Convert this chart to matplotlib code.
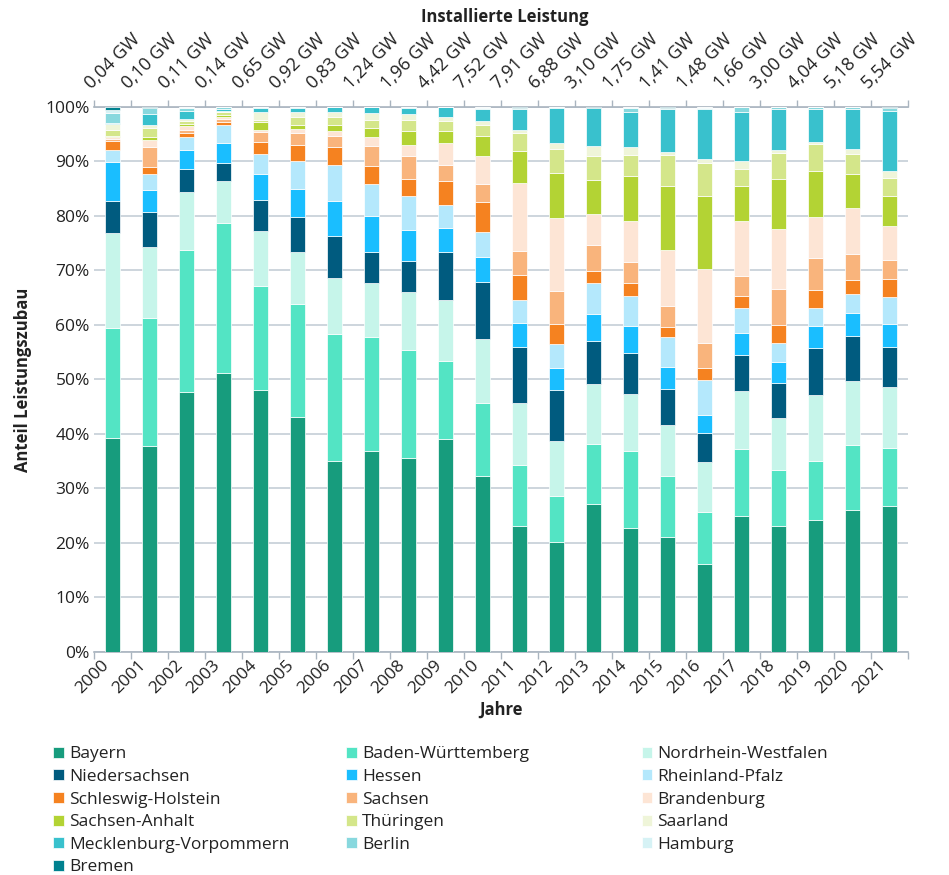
import numpy as np
import matplotlib
matplotlib.use("Agg")
import matplotlib.pyplot as plt
from matplotlib.ticker import FixedLocator, FuncFormatter

# ---------------------------------------------------------------------------
# Data: share of newly installed capacity per federal state (%)
# ---------------------------------------------------------------------------
years = [str(y) for y in range(2000, 2022)]
gw_labels = ["0,04 GW", "0,10 GW", "0,11 GW", "0,14 GW", "0,65 GW", "0,92 GW",
             "0,83 GW", "1,24 GW", "1,96 GW", "4,42 GW", "7,52 GW", "7,91 GW",
             "6,88 GW", "3,10 GW", "1,75 GW", "1,41 GW", "1,48 GW", "1,66 GW",
             "3,00 GW", "4,04 GW", "5,18 GW", "5,54 GW"]

bayern = [39.3, 37.9, 47.7, 51.2, 48.0, 43.0, 35.1, 36.8, 35.5, 39.1, 32.2,
          23.1, 20.2, 27.1, 22.8, 21.0, 16.2, 24.9, 23.1, 24.1, 26.0, 26.7]
baden_wuerttemberg = [20.1, 23.4, 26.0, 27.5, 19.0, 20.8, 23.2, 21.0, 19.9, 14.2, 13.4,
                      11.2, 8.4, 11.0, 14.0, 11.3, 9.5, 12.3, 10.3, 11.0, 11.9, 10.7]
nrw = [17.5, 13.1, 10.7, 7.8, 10.2, 9.6, 10.2, 9.9, 10.6, 11.2, 11.8,
       11.4, 10.1, 11.1, 10.5, 9.4, 9.2, 10.6, 9.5, 12.1, 11.8, 11.1]
niedersachsen = [5.9, 6.5, 4.1, 3.3, 5.6, 6.4, 7.8, 5.6, 5.7, 8.8, 10.5,
                 10.2, 9.3, 7.9, 7.5, 6.6, 5.3, 6.7, 6.5, 8.5, 8.2, 7.5]
hessen = [7.2, 4.0, 3.5, 3.6, 4.8, 5.1, 6.4, 6.6, 5.6, 4.5, 4.5,
          4.4, 4.1, 4.9, 5.0, 4.0, 3.3, 4.0, 3.8, 4.0, 4.3, 4.2]
rheinland_pfalz = [2.2, 2.9, 2.5, 3.3, 3.7, 5.2, 6.7, 5.9, 6.3, 4.2, 4.7,
                   4.3, 4.3, 5.6, 5.5, 5.4, 6.4, 4.5, 3.5, 3.4, 3.4, 4.9]
schleswig_holstein = [1.6, 1.3, 0.7, 0.6, 2.1, 2.9, 3.3, 3.3, 3.1, 4.4, 5.4,
                      4.5, 3.8, 2.2, 2.4, 1.9, 2.1, 2.3, 3.3, 3.2, 2.6, 3.3]
sachsen = [0.4, 3.7, 0.6, 0.5, 1.8, 2.2, 2.0, 3.7, 4.3, 2.9, 3.3,
           4.4, 6.0, 4.9, 3.9, 3.9, 4.7, 3.6, 6.6, 5.9, 4.7, 3.4]
brandenburg = [0.3, 1.3, 0.6, 0.4, 0.4, 0.7, 0.8, 1.6, 1.9, 4.0, 5.2,
               12.5, 13.4, 5.7, 7.4, 10.2, 13.5, 10.2, 11.0, 7.5, 8.6, 6.3]
sachsen_anhalt = [0.3, 0.5, 0.5, 0.4, 1.5, 0.8, 1.2, 1.7, 2.6, 2.2, 3.7,
                  5.9, 8.2, 6.1, 8.3, 11.7, 13.4, 6.4, 9.1, 8.5, 6.1, 5.5]
thueringen = [1.1, 1.7, 0.5, 0.5, 0.4, 1.5, 1.5, 1.4, 2.0, 1.9, 2.0,
              3.2, 4.5, 4.5, 3.9, 5.7, 6.0, 3.0, 4.9, 5.0, 3.8, 3.3]
saarland = [1.0, 0.6, 0.4, 0.3, 1.4, 0.9, 0.9, 1.3, 1.2, 0.8, 0.7,
            0.6, 1.1, 1.8, 1.5, 0.6, 0.8, 1.5, 0.5, 0.4, 0.9, 1.3]
mecklenburg = [0.3, 1.9, 1.4, 0.3, 0.8, 0.7, 0.8, 1.1, 1.0, 1.7, 2.2,
               3.9, 6.3, 6.9, 6.4, 7.8, 9.2, 9.1, 7.4, 5.9, 7.2, 11.0]
berlin = [1.7, 1.1, 0.5, 0.3, 0.1, 0.1, 0.1, 0.1, 0.2, 0.1, 0.2,
          0.1, 0.2, 0.1, 0.6, 0.2, 0.2, 0.8, 0.4, 0.4, 0.4, 0.5]
hamburg = [0.6, 0.0, 0.2, 0.1, 0.1, 0.1, 0.0, 0.0, 0.1, 0.0, 0.1,
           0.1, 0.1, 0.0, 0.2, 0.1, 0.1, 0.1, 0.1, 0.1, 0.1, 0.0]
bremen = [0.6, 0.3, 0.1, 0.0, 0.0, 0.0, 0.0, 0.0, 0.0, 0.0, 0.1,
          0.2, 0.0, 0.2, 0.1, 0.2, 0.1, 0.0, 0.0, 0.0, 0.0, 0.3]

states = ["Bayern", "Baden-Württemberg", "Nordrhein-Westfalen", "Niedersachsen",
          "Hessen", "Rheinland-Pfalz", "Schleswig-Holstein", "Sachsen",
          "Brandenburg", "Sachsen-Anhalt", "Thüringen", "Saarland",
          "Mecklenburg-Vorpommern", "Berlin", "Hamburg", "Bremen"]
series = [bayern, baden_wuerttemberg, nrw, niedersachsen, hessen, rheinland_pfalz,
          schleswig_holstein, sachsen, brandenburg, sachsen_anhalt, thueringen,
          saarland, mecklenburg, berlin, hamburg, bremen]
colors = ["#179c7d", "#53e4c4", "#c6f5ea", "#005b7f", "#1abeff", "#b4e8fc",
          "#f58220", "#f9b47c", "#fde5d5", "#b3d334", "#d4e68a", "#eff5d9",
          "#39c1cd", "#88d8de", "#d6f2f5", "#00818f"]

# ---------------------------------------------------------------------------
# Plot
# ---------------------------------------------------------------------------
plt.rcParams["font.family"] = ["Open Sans", "DejaVu Sans"]
text_col = "#222222"
axis_col = "#a9b4bf"

fig = plt.figure(figsize=(9.49, 8.75), dpi=100)
ax = fig.add_axes([0.099, 0.255, 0.858, 0.623])

data = np.array(series)
data = data / data.sum(axis=0) * 100  # readings -> shares summing to 100
x = np.arange(len(years))
bottom = np.zeros(len(years))
handles = []
for vals, name, col in zip(data, states, colors):
    h = ax.bar(x, vals, width=0.4, bottom=bottom, color=col, label=name,
               edgecolor="white", linewidth=0.5, zorder=3)
    handles.append(h)
    bottom += vals

ax.set_xlim(-0.5, len(years) - 0.5)
ax.set_ylim(0, 100)

# y axis
ax.yaxis.set_major_locator(FixedLocator(np.arange(0, 101, 10)))
ax.yaxis.set_major_formatter(FuncFormatter(lambda v, p: f"{int(v)}%"))
ax.tick_params(axis="y", length=0, labelsize=12.5, labelcolor=text_col, pad=3)
ax.grid(axis="y", color="#c9d2da", linewidth=1.3, zorder=0)
ax.set_ylabel("Anteil Leistungszubau", fontsize=12, fontweight="bold",
              color=text_col, labelpad=10)

# x axis: tick marks at category boundaries, labels at centres
ax.xaxis.set_major_locator(FixedLocator(np.arange(-0.5, len(years), 1.0)))
ax.xaxis.set_minor_locator(FixedLocator(x))
ax.set_xticklabels([])
ax.set_xticklabels(years, minor=True, rotation=45, ha="right",
                   rotation_mode="default")
ax.tick_params(axis="x", which="major", length=5, color=axis_col, width=1,
               top=True, bottom=True)
ax.tick_params(axis="x", which="minor", length=0, labelsize=12.5,
               labelcolor=text_col, pad=4)
ax.set_xlabel("Jahre", fontsize=12, fontweight="bold", color=text_col,
              labelpad=3)

for s in ["left", "right"]:
    ax.spines[s].set_visible(False)
for s in ["top", "bottom"]:
    ax.spines[s].set_color(axis_col)
    ax.spines[s].set_linewidth(1.2)

# top axis with installed capacity
top = ax.secondary_xaxis("top")
top.xaxis.set_major_locator(FixedLocator(x))
top.set_xticklabels(gw_labels, rotation=45, ha="center")
top.tick_params(axis="x", length=0, labelsize=13, labelcolor=text_col, pad=10)
top.spines["top"].set_visible(False)
fig.text(0.532, 0.98, "Installierte Leistung", ha="center", va="center",
         fontsize=12, fontweight="bold", color=text_col)

# legend: three columns placed at fixed positions, row-wise reading order
col_x = [0.056, 0.365, 0.676]
for c, x0 in enumerate(col_x):
    idx = list(range(c, len(states), 3))
    leg = fig.legend([handles[i] for i in idx], [states[i] for i in idx],
                     loc="upper left", bbox_to_anchor=(x0, 0.147), ncol=1,
                     frameon=False, fontsize=12.5, handlelength=0.6,
                     handleheight=0.6, handletextpad=0.3,
                     labelspacing=0.38, borderaxespad=0, borderpad=0)
    for t in leg.get_texts():
        t.set_color(text_col)

fig.savefig("out.png", dpi=100)
